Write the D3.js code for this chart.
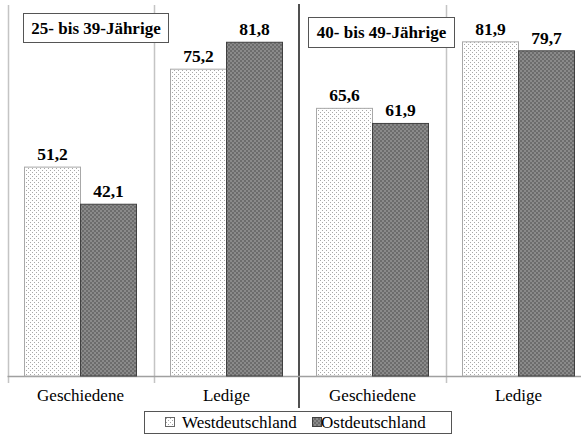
<!DOCTYPE html>
<html><head><meta charset="utf-8">
<script src="https://cdn.jsdelivr.net/npm/d3@7"></script>
</head><body style="margin:0">
<script>
const ageGroups = ["25- bis 39-Jährige", "40- bis 49-Jährige"];
const categories = ["Geschiedene", "Ledige", "Geschiedene", "Ledige"];
const seriesNames = ["Westdeutschland", "Ostdeutschland"];
const westValues = [51.2, 75.2, 65.6, 81.9];
const ostValues = [42.1, 81.8, 61.9, 79.7];
const westLabels = ["51,2", "75,2", "65,6", "81,9"];
const ostLabels = ["42,1", "81,8", "61,9", "79,7"];

const FF = "Liberation Serif, Tinos, Times New Roman, serif";
const svg = d3.select("body").append("svg").attr("width", 581).attr("height", 435).style("display", "block");
const defs = svg.append("defs");
const pw = defs.append("pattern").attr("id","pw").attr("patternUnits","userSpaceOnUse").attr("width",4).attr("height",4);
pw.append("rect").attr("width",4).attr("height",4).attr("fill","#fff");
pw.append("rect").attr("x",0).attr("y",0).attr("width",1).attr("height",1).attr("fill","#a8a8a8");
pw.append("rect").attr("x",2).attr("y",2).attr("width",1).attr("height",1).attr("fill","#a8a8a8");
const po = defs.append("pattern").attr("id","po").attr("patternUnits","userSpaceOnUse").attr("width",4).attr("height",4);
po.append("rect").attr("width",4).attr("height",4).attr("fill","#8a8a8a");
po.append("rect").attr("x",0).attr("y",0).attr("width",2).attr("height",2).attr("fill","#6c6c6c");
po.append("rect").attr("x",2).attr("y",2).attr("width",2).attr("height",2).attr("fill","#6c6c6c");

const idx = d3.range(categories.length);
const x = d3.scaleBand().domain(idx).range([7.5, 7.5 + 4*146]).padding(0);
const xs = d3.scaleBand().domain([0,1]).range([17, 129]).padding(0);
const y = d3.scaleLinear().domain([0, 90]).range([376, 8.8]);

svg.append("g").selectAll("line").data([0, 1, 3]).join("line")
  .attr("x1", d => Math.round(x(d)) + 0.5).attr("x2", d => Math.round(x(d)) + 0.5)
  .attr("y1", 5).attr("y2", 383)
  .attr("stroke", "#c4c4c4").attr("stroke-width", 1.5);
svg.append("line").attr("x1", x(2) - 0.5).attr("x2", x(2) - 0.5).attr("y1", 4).attr("y2", 408)
  .attr("stroke", "#505050").attr("stroke-width", 2);
svg.append("line").attr("x1", 7.5).attr("x2", 581).attr("y1", y(0)+0.5).attr("y2", y(0)+0.5)
  .attr("stroke", "#a0a0a0").attr("stroke-width", 1.5);

const series = [westValues, ostValues];
const labels = [westLabels, ostLabels];
const fills = ["url(#pw)", "url(#po)"];
const strokes = ["#a8a8a8", "#404040"];
series.forEach((vals, s) => {
  const g = svg.append("g");
  g.selectAll("rect").data(idx).join("rect")
    .attr("x", i => x(i) + xs(s)).attr("width", xs.bandwidth())
    .attr("y", i => y(vals[i])).attr("height", i => y(0) - y(vals[i]))
    .attr("fill", fills[s]).attr("stroke", strokes[s]).attr("stroke-width", 1);
  g.selectAll("text").data(idx).join("text")
    .attr("x", i => x(i) + xs(s) + xs.bandwidth()/2).attr("y", i => y(vals[i]) - 7)
    .attr("text-anchor", "middle").attr("font-family", FF).attr("font-weight", "bold")
    .attr("font-size", 17.5).text(i => labels[s][i]);
});

svg.append("g").selectAll("text").data(idx).join("text")
  .attr("x", i => x(i) + x.bandwidth()/2).attr("y", 401)
  .attr("text-anchor", "middle").attr("font-family", FF).attr("font-size", 17)
  .text(i => categories[i]);

const boxes = [{x:23, y:13, w:145, h:29}, {x:308, y:17, w:146, h:30}];
ageGroups.forEach((t, k) => {
  const b = boxes[k];
  svg.append("rect").attr("x", b.x+0.5).attr("y", b.y+0.5).attr("width", b.w).attr("height", b.h)
    .attr("fill", "#fff").attr("stroke", "#555").attr("stroke-width", 1);
  svg.append("text").attr("x", b.x + b.w/2 + 0.5).attr("y", b.y + b.h/2 + 6)
    .attr("text-anchor", "middle").attr("font-family", FF).attr("font-weight", "bold")
    .attr("font-size", 17).text(t);
});

const lg = svg.append("g");
lg.append("rect").attr("x", 144.5).attr("y", 411.5).attr("width", 307).attr("height", 22)
  .attr("fill", "#fff").attr("stroke", "#555");
const legX = [165, 312];
seriesNames.forEach((n, s) => {
  lg.append("rect").attr("x", legX[s]+0.5).attr("y", 417.5).attr("width", 9).attr("height", 9)
    .attr("fill", fills[s]).attr("stroke", s ? "#404040" : "#666");
  lg.append("text").attr("x", legX[s] + 17 - (s ? 8 : 0)).attr("y", 427.5)
    .attr("font-family", FF).attr("font-size", 17).text(n);
});
</script></body></html>
